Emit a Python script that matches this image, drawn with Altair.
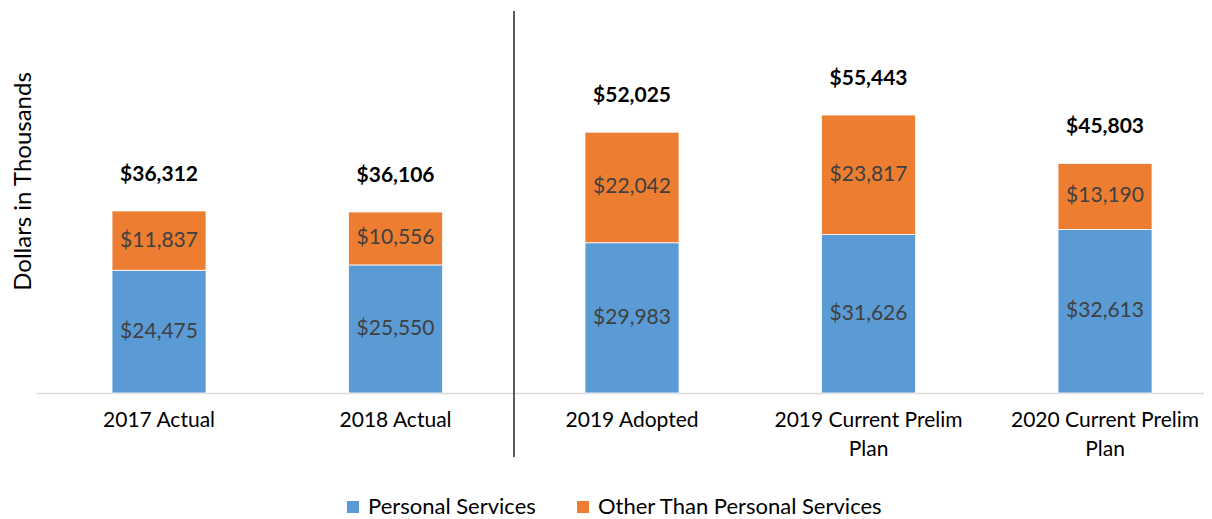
import altair as alt
import pandas as pd

categories = ["2017 Actual", "2018 Actual", "2019 Adopted", "2019 Current Prelim Plan", "2020 Current Prelim Plan"]
series = ["Personal Services", "Other Than Personal Services"]
personal_services = [24475, 25550, 29983, 31626, 32613]
other_than_ps = [11837, 10556, 22042, 23817, 13190]
colors = ["#5B9BD5", "#ED7D31"]

rows = []
for i, c in enumerate(categories):
    rows.append({"category": c, "series": series[0], "value": personal_services[i], "order": 0})
    rows.append({"category": c, "series": series[1], "value": other_than_ps[i], "order": 1})
df = pd.DataFrame(rows)

FONT = "Lato"
FS = 21

x_enc = alt.X(
    "category:N",
    sort=categories,
    scale=alt.Scale(paddingInner=0.6025, paddingOuter=0.2706, align=0.594),
    axis=alt.Axis(
        title=None,
        labelAngle=0,
        labelFont=FONT,
        labelFontSize=FS,
        labelColor="#000000",
        labelPadding=16,
        labelLineHeight=29,
        labelLimit=0,
        labelExpr="length(datum.label) > 15 ? [substring(datum.label, 0, lastindexof(datum.label, ' ')), substring(datum.label, lastindexof(datum.label, ' ') + 1)] : datum.label",
        ticks=False,
        domainColor="#D9D9D9",
        domainWidth=1.5,
        grid=False,
    ),
)

y_scale = alt.Scale(domain=[0, 76200], nice=False, zero=True)

base = alt.Chart(df)

bars = base.mark_bar(stroke="white", strokeWidth=0.8).encode(
    x=x_enc,
    y=alt.Y(
        "value:Q",
        stack="zero",
        scale=y_scale,
        axis=alt.Axis(
            title="Dollars in Thousands",
            labels=False,
            ticks=False,
            domain=False,
            grid=False,
            titleFont=FONT,
            titleFontSize=24,
            titleFontWeight="normal",
            titleColor="#000000",
            titleAngle=270,
            titleX=-13,
            titleY=170,
            titleAlign="center",
            titleBaseline="middle",
        ),
    ),
    color=alt.Color(
        "series:N",
        scale=alt.Scale(domain=series, range=colors),
        legend=alt.Legend(
            title=None,
            orient="none",
            direction="horizontal",
            legendX=306,
            legendY=485,
            symbolType="square",
            symbolSize=144,
            symbolStrokeWidth=0,
            labelFont=FONT,
            labelFontSize=22,
            labelColor="#000000",
            labelOffset=4,
            labelLimit=0,
            columnPadding=36,
        ),
    ),
    order=alt.Order("order:Q", sort="ascending"),
)

seg_labels = base.transform_stack(
    stack="value", groupby=["category"], as_=["y0", "y1"], sort=[alt.SortField("order", order="ascending")]
).transform_calculate(mid="(datum.y0 + datum.y1) / 2").mark_text(
    font=FONT, fontSize=FS, color="#404040", baseline="middle", align="center"
).encode(
    x=alt.X("category:N", sort=categories),
    y=alt.Y("mid:Q", scale=y_scale),
    text=alt.Text("value:Q", format="$,.0f"),
)

totals = base.transform_aggregate(total="sum(value)", groupby=["category"]).mark_text(
    font=FONT, fontSize=FS, fontWeight="bold", color="#000000", baseline="middle", align="center", dy=-36
).encode(
    x=alt.X("category:N", sort=categories),
    y=alt.Y("total:Q", scale=y_scale),
    text=alt.Text("total:Q", format="$,.0f"),
)

sep = alt.Chart(pd.DataFrame({"a": [0]})).mark_rule(color="#262626", strokeWidth=1.5).encode(
    x=alt.value(478), y=alt.value(0), y2=alt.value(446)
)

chart = alt.layer(bars, seg_labels, totals, sep).properties(
    width=1168,
    height=382,
    padding={"left": 28, "top": 3, "right": 0, "bottom": 126},
    autosize=alt.AutoSizeParams(type="none"),
).configure_view(stroke=None)

chart.save("out.html", embed_options={"renderer": "svg", "actions": False})
